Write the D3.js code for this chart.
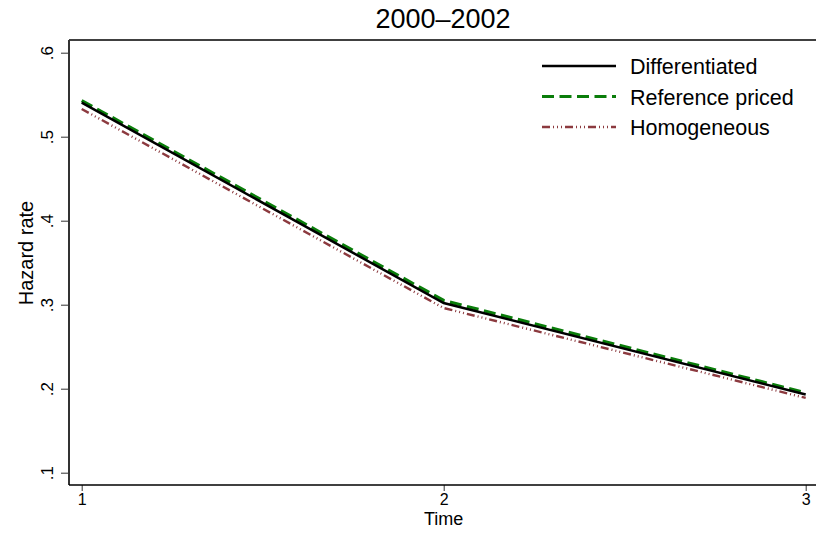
<!DOCTYPE html>
<html>
<head>
<meta charset="utf-8">
<script src="https://cdn.jsdelivr.net/npm/d3@7"></script>
<style>
body { margin: 0; background: #fff; }
text { font-family: "Liberation Sans", Arial, sans-serif; fill: #000; }
</style>
</head>
<body>
<script>
var times = [1, 2, 3];
var differentiated = [0.5405, 0.302, 0.193];
var referencePriced = [0.543, 0.305, 0.195];
var homogeneous = [0.533, 0.296, 0.189];
var yTicks = [0.1, 0.2, 0.3, 0.4, 0.5, 0.6];
var xTicks = [1, 2, 3];

var series = [
    { name: "Differentiated", values: differentiated, color: "#000000", width: 2.5, dash: null },
    { name: "Reference priced", values: referencePriced, color: "#0a7d0a", width: 3.2, dash: "12,5.5" },
    { name: "Homogeneous", values: homogeneous, color: "#8c3a3f", width: 2.4, dash: "8,3,1,3,1,3,1,3" }
];

var W = 816, H = 536;
var plot = { left: 69, right: 816, top: 40, bottom: 485 };

var svg = d3.select("body").append("svg")
    .attr("width", W)
    .attr("height", H);

var x = d3.scaleLinear().domain([1, 3]).range([81.7, 805.7]);
var y = d3.scaleLinear().domain([0.1, 0.6]).range([472.7, 52.7]);

// frame
svg.append("line")
    .attr("x1", plot.left).attr("x2", plot.right)
    .attr("y1", plot.top).attr("y2", plot.top)
    .attr("stroke", "#000").attr("stroke-width", 1.5);

svg.append("g")
    .attr("transform", "translate(" + plot.left + ",0)")
    .call(d3.axisLeft(y).tickValues(yTicks).tickSize(8)
        .tickFormat(function (d) { return d3.format(".1f")(d).replace(/^0/, ""); }))
    .call(function (g) {
        g.select(".domain").remove();
        g.selectAll(".tick line").attr("stroke", "#333");
        g.selectAll(".tick text")
            .attr("font-size", 17)
            .attr("transform", "rotate(-90)")
            .attr("x", 0).attr("y", -16)
            .attr("dy", "0")
            .style("text-anchor", "middle");
    });

svg.append("line")
    .attr("x1", plot.left).attr("x2", plot.left)
    .attr("y1", plot.top).attr("y2", plot.bottom)
    .attr("stroke", "#333").attr("stroke-width", 2);

svg.append("g")
    .attr("transform", "translate(0," + plot.bottom + ")")
    .call(d3.axisBottom(x).tickValues(xTicks).tickSize(6).tickFormat(d3.format("d")))
    .call(function (g) {
        g.select(".domain").remove();
        g.selectAll(".tick line").attr("stroke", "#333");
        g.selectAll(".tick text").attr("font-size", 16).attr("y", 9);
    });

svg.append("line")
    .attr("x1", plot.left).attr("x2", plot.right)
    .attr("y1", plot.bottom).attr("y2", plot.bottom)
    .attr("stroke", "#000").attr("stroke-width", 1.5);

// labels
svg.append("text")
    .attr("x", 443).attr("y", 28)
    .attr("text-anchor", "middle")
    .attr("font-size", 27)
    .text("2000\u20132002");

svg.append("text")
    .attr("x", 443.7).attr("y", 525)
    .attr("text-anchor", "middle")
    .attr("font-size", 18)
    .text("Time");

svg.append("text")
    .attr("transform", "translate(33,253) rotate(-90)")
    .attr("text-anchor", "middle")
    .attr("font-size", 20)
    .text("Hazard rate");

// lines
var line = d3.line()
    .x(function (d, i) { return x(times[i]); })
    .y(function (d) { return y(d); });

svg.selectAll("path.series")
    .data(series.slice().reverse())
    .enter()
    .append("path")
    .attr("class", "series")
    .attr("d", function (d) { return line(d.values); })
    .attr("fill", "none")
    .attr("stroke", function (d) { return d.color; })
    .attr("stroke-width", function (d) { return d.width; })
    .attr("stroke-dasharray", function (d) { return d.dash; });

// legend
var legend = svg.selectAll("g.legend")
    .data(series)
    .enter()
    .append("g")
    .attr("class", "legend")
    .attr("transform", function (d, i) { return "translate(542," + (66 + i * 30.5) + ")"; });

legend.append("line")
    .attr("x1", 0).attr("x2", 74)
    .attr("stroke", function (d) { return d.color; })
    .attr("stroke-width", function (d) { return d.width; })
    .attr("stroke-dasharray", function (d) { return d.dash; });

legend.append("text")
    .attr("x", 88).attr("y", 8)
    .attr("font-size", 21.5)
    .text(function (d) { return d.name; });
</script>
</body>
</html>
